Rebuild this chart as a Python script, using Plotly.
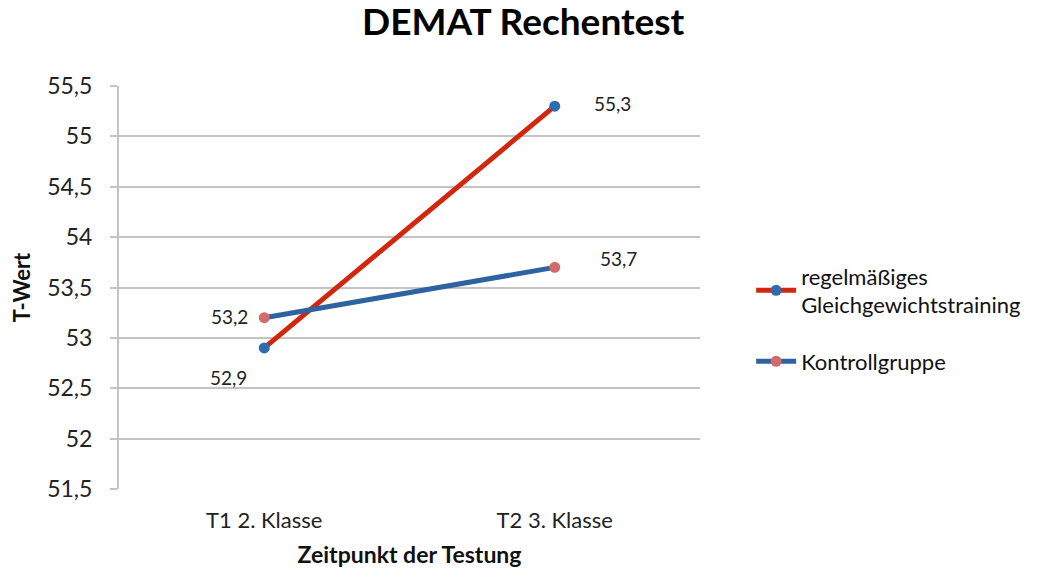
import plotly.graph_objects as go

categories = ["T1 2. Klasse", "T2 3. Klasse"]
training = [52.9, 55.3]
kontroll = [53.2, 53.7]
tick_vals = [51.5, 52, 52.5, 53, 53.5, 54, 54.5, 55, 55.5]
tick_text = ["51,5", "52", "52,5", "53", "53,5", "54", "54,5", "55", "55,5"]

FONT = "Lato, Open Sans, sans-serif"
RED = "#d3260f"
BLUE = "#2f62a0"
BLUE_DOT = "#2e6bb0"
SALMON = "#d46b6b"


def fmt(v):
    return f"{v:.1f}".replace(".", ",")


fig = go.Figure()
fig.add_trace(go.Scatter(
    x=categories, y=training, mode="lines+markers",
    name="regelmäßiges<br>Gleichgewichtstraining", legendgroup="a",
    line=dict(color=RED, width=5),
    marker=dict(color=BLUE_DOT, size=11),
))
fig.add_trace(go.Scatter(
    x=categories, y=kontroll, mode="lines+markers",
    name="Kontrollgruppe", legendgroup="b",
    line=dict(color=BLUE, width=5),
    marker=dict(color=SALMON, size=11),
))

# data labels (Excel style placement)
label_shift = {
    ("t", 0): (-36, -30), ("t", 1): (58, 3),
    ("k", 0): (-35, 1), ("k", 1): (64, 9),
}
for key, ys in (("t", training), ("k", kontroll)):
    for i, v in enumerate(ys):
        dx, dy = label_shift[(key, i)]
        fig.add_annotation(x=categories[i], y=v, text=fmt(v), showarrow=False,
                           xshift=dx, yshift=dy,
                           font=dict(size=19, color="#222", family=FONT))

# page has an 8px body margin, so margins are shifted to compensate
fig.update_layout(
    width=1043, height=577,
    paper_bgcolor="white", plot_bgcolor="white",
    font=dict(family=FONT, color="#111"),
    title=dict(text="<b>DEMAT Rechentest</b>", x=0.494, xanchor="center",
               y=1, yanchor="top", pad=dict(t=1),
               font=dict(size=37, color="#000")),
    margin=dict(l=104, r=351, t=78, b=96),
    legend=dict(x=1.088, y=0.58, xanchor="left", yanchor="top",
                font=dict(size=22, color="#111"), tracegroupgap=25,
                itemwidth=40),
    showlegend=True,
)
fig.update_xaxes(
    range=[-0.5, 1.5], showgrid=False, showline=False, zeroline=False,
    tickfont=dict(size=22, color="#222"), ticks="", ticklabelstandoff=16,
    title=dict(text="<b>Zeitpunkt der Testung</b>", font=dict(size=23, color="#111"), standoff=14),
)
fig.update_yaxes(
    range=[51.5, 55.5], tickvals=tick_vals, ticktext=tick_text,
    showgrid=True, gridcolor="#c4c4c4", gridwidth=2,
    showline=True, linecolor="#c4c4c4", linewidth=2,
    ticks="outside", ticklen=7, tickcolor="#c4c4c4", tickwidth=2,
    ticklabelstandoff=13,
    zeroline=False, tickfont=dict(size=23, color="#222"),
    title=dict(text="<b>T-Wert</b>", font=dict(size=22, color="#111"), standoff=12),
)

fig.write_html("out.html")
